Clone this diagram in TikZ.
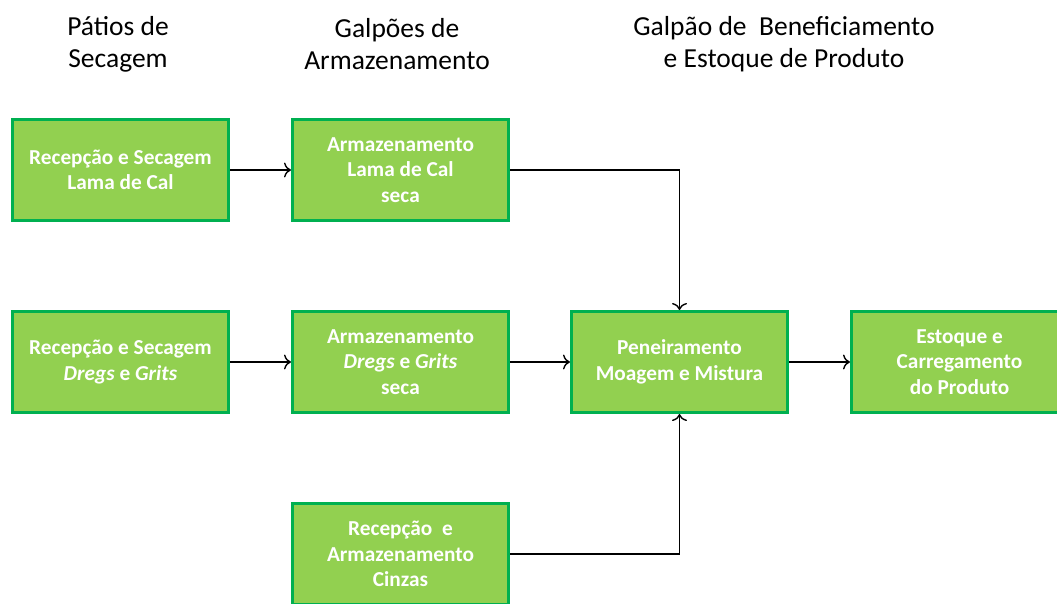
\documentclass[tikz,border=0pt]{standalone}
\usepackage{fontspec}
\setmainfont{Carlito}
\usetikzlibrary{arrows.meta}
\definecolor{boxfill}{HTML}{92D050}
\definecolor{boxline}{HTML}{00B050}
\tikzset{
process/.style={ % green process boxes
draw=boxline,
line width=3pt,
fill=boxfill,
minimum width=216pt,
minimum height=101pt,
text=white,
align=center,
font=\fontsize{21.3}{25.5}\selectfont\bfseries},
header/.style={ % column titles
align=center,
font=\fontsize{27.5}{32}\selectfont},
flow/.style={ % connectors
draw,
-{To[length=7pt,width=15pt]},
line width=1.4pt}}

\begin{document}
\begin{tikzpicture}[x=1pt,y=-1pt]
	\clip (0,0) rectangle (1057,604);
	\node[header] (h1) at (118,44) {Pátios de\\Secagem};
	\node[header] (h2) at (397,44) {Galpões de\\Armazenamento};
	\node[header] (h3) at (784,44) {Galpão de\ \ Beneficiamento\\e Estoque de Produto};
	\node[process] (rlama) at (120.5,170) {Recepção e Secagem\\Lama de Cal};
	\node[process] (alama) at (400.5,170) {Armazenamento\\Lama de Cal\\seca};
	\node[process] (rdregs) at (120.5,362) {Recepção e Secagem\\\textit{Dregs} e \textit{Grits}};
	\node[process] (adregs) at (400.5,362) {Armazenamento\\\textit{Dregs} e \textit{Grits}\\seca};
	\node[process] (pen) at (679.5,362) {Peneiramento\\Moagem e Mistura};
	\node[process] (est) at (959.5,362) {Estoque e\\Carregamento\\do Produto};
	\node[process] (cinzas) at (400.5,554) {Recepção\ \ e\\Armazenamento\\Cinzas};
	\draw[flow] (rlama) -- (alama);
	\draw[flow] (rdregs) -- (adregs);
	\draw[flow] (adregs) -- (pen);
	\draw[flow] (pen) -- (est);
	\draw[flow] (alama.east) -| (pen.north);
	\draw[flow] (cinzas.east) -| (pen.south);
\end{tikzpicture}
\end{document}
